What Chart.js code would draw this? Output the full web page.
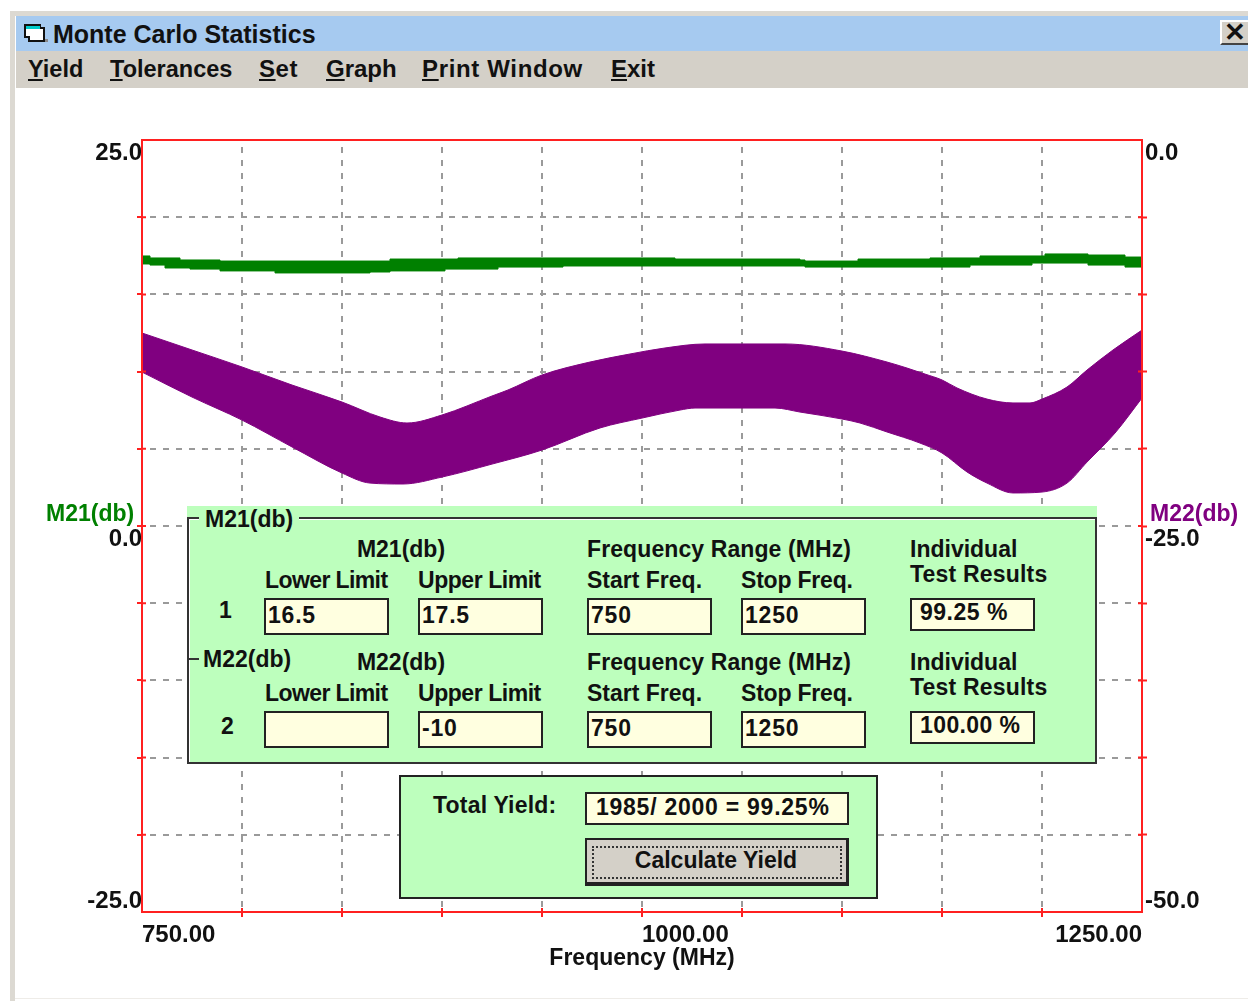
<!DOCTYPE html>
<html><head><meta charset="utf-8">
<script src="https://cdn.jsdelivr.net/npm/chart.js@4"></script>
<style>
html,body{margin:0;padding:0;background:#fff;overflow:hidden}
#stage{position:relative;width:1248px;height:1001px;font:bold 23px "Liberation Sans",sans-serif;color:#111}
canvas{position:absolute;left:0;top:0}
.b{position:absolute}
.t{position:absolute;line-height:26px;height:26px;white-space:nowrap}
.c{transform:translateX(-50%)}
.inp{position:absolute;background:#ffffe0;border:2px solid #222;box-sizing:border-box}
.ll{letter-spacing:-.6px}.ul{letter-spacing:-.45px}.sf{letter-spacing:-.2px}.d{letter-spacing:.8px}
</style></head><body><div id="stage">
<canvas id="c" width="1248" height="1001"></canvas>

<div class="b" style="left:10px;top:11px;width:1238px;height:5px;background:#dcd9d2"></div>
<div class="b" style="left:10px;top:11px;width:5px;height:990px;background:#dcd9d2"></div>
<div class="b" style="left:15px;top:998px;width:1233px;height:1px;background:#eeece8"></div>
<div class="b" style="left:16px;top:16px;width:1232px;height:35px;background:#a6caf0"></div>
<div class="b" style="left:16px;top:51px;width:1232px;height:37px;background:#d4d0c8"></div>
<svg class="b" style="left:23px;top:23px" width="26" height="22" viewBox="0 0 26 22">
<path d="M2 2H17V5H21V18H6V14H2Z" fill="#fff" stroke="#111" stroke-width="2"/><rect x="3" y="3" width="14" height="3" fill="#0cc"/><rect x="22" y="16" width="3" height="3" fill="#888"/></svg>
<div class="t" style="left:53px;top:21px;font-size:25px">Monte Carlo Statistics</div>
<div class="t" style="left:28px;top:56px;font-size:23.5px"><u>Y</u>ield</div>
<div class="t" style="left:110px;top:56px;font-size:23.5px"><u>T</u>olerances</div>
<div class="t" style="left:259px;top:56px;font-size:24px;letter-spacing:.6px"><u>S</u>et</div>
<div class="t" style="left:326px;top:56px;font-size:24px"><u>G</u>raph</div>
<div class="t" style="left:422px;top:56px;font-size:24px;letter-spacing:.65px"><u>P</u>rint Window</div>
<div class="t" style="left:611px;top:56px;font-size:24px"><u>E</u>xit</div>
<div class="b" style="left:1220px;top:20px;width:28px;height:25px;background:#d4d0c8;box-sizing:border-box;border-top:2px solid #fff;border-left:2px solid #fff;border-bottom:2px solid #444"></div>
<div class="t c" style="left:1235px;top:19px;font-size:26px">✕</div>

<div class="t" style="left:46px;top:500px;color:#008000">M21(db)</div>
<div class="t" style="left:1150px;top:500px;color:#800080">M22(db)</div>

<div class="b" style="left:187px;top:506px;width:910px;height:258px;background:#bdffbd"></div>
<div class="b" style="left:187px;top:517px;width:910px;height:247px;border:2px solid #333;box-sizing:border-box;box-shadow:inset 1px 1px 0 #fff"></div>
<div class="b" style="left:199px;top:510px;width:100px;height:16px;background:#bdffbd"></div>
<div class="b" style="left:187px;top:658px;width:12px;height:2px;background:#333"></div>
<div class="t" style="left:205px;top:506px">M21(db)</div>
<div class="t" style="left:203px;top:646px">M22(db)</div>

<div class="t c" style="left:401px;top:536px">M21(db)</div>
<div class="t" style="left:587px;top:536px;letter-spacing:.1px">Frequency Range (MHz)</div>
<div class="t" style="left:910px;top:536px">Individual</div>
<div class="t" style="left:910px;top:561px;letter-spacing:.2px">Test Results</div>
<div class="t ll" style="left:265px;top:567px">Lower Limit</div>
<div class="t ul" style="left:418px;top:567px">Upper Limit</div>
<div class="t" style="left:587px;top:567px">Start Freq.</div>
<div class="t sf" style="left:741px;top:567px">Stop Freq.</div>
<div class="t" style="left:219px;top:597px">1</div>
<div class="inp" style="left:264px;top:598px;width:125px;height:37px"></div><div class="t d" style="left:268px;top:602px">16.5</div>
<div class="inp" style="left:418px;top:598px;width:125px;height:37px"></div><div class="t d" style="left:422px;top:602px">17.5</div>
<div class="inp" style="left:587px;top:598px;width:125px;height:37px"></div><div class="t d" style="left:591px;top:602px">750</div>
<div class="inp" style="left:741px;top:598px;width:125px;height:37px"></div><div class="t d" style="left:745px;top:602px">1250</div>
<div class="inp" style="left:910px;top:598px;width:125px;height:33px"></div><div class="t" style="left:920px;top:599px;letter-spacing:.5px">99.25 %</div>

<div class="t c" style="left:401px;top:649px">M22(db)</div>
<div class="t" style="left:587px;top:649px;letter-spacing:.1px">Frequency Range (MHz)</div>
<div class="t" style="left:910px;top:649px">Individual</div>
<div class="t" style="left:910px;top:674px;letter-spacing:.2px">Test Results</div>
<div class="t ll" style="left:265px;top:680px">Lower Limit</div>
<div class="t ul" style="left:418px;top:680px">Upper Limit</div>
<div class="t" style="left:587px;top:680px">Start Freq.</div>
<div class="t sf" style="left:741px;top:680px">Stop Freq.</div>
<div class="t" style="left:221px;top:713px">2</div>
<div class="inp" style="left:264px;top:711px;width:125px;height:37px"></div>
<div class="inp" style="left:418px;top:711px;width:125px;height:37px"></div><div class="t d" style="left:422px;top:715px">-10</div>
<div class="inp" style="left:587px;top:711px;width:125px;height:37px"></div><div class="t d" style="left:591px;top:715px">750</div>
<div class="inp" style="left:741px;top:711px;width:125px;height:37px"></div><div class="t d" style="left:745px;top:715px">1250</div>
<div class="inp" style="left:910px;top:711px;width:125px;height:33px"></div><div class="t" style="left:920px;top:712px;letter-spacing:.4px">100.00 %</div>

<div class="b" style="left:399px;top:775px;width:479px;height:124px;background:#bdffbd;border:2px solid #222;box-sizing:border-box"></div>
<div class="t" style="left:433px;top:792px;letter-spacing:.2px">Total Yield:</div>
<div class="inp" style="left:585px;top:792px;width:264px;height:33px"></div><div class="t" style="left:596px;top:794px;letter-spacing:.75px">1985/ 2000 = 99.25%</div>
<div class="b" style="left:585px;top:838px;width:264px;height:48px;background:#d4d0c8;box-sizing:border-box;border:2px solid #222;border-bottom:4px solid #222;border-right:3px solid #222"></div>
<div class="b" style="left:592px;top:846px;width:250px;height:33px;border:2px dotted #333;box-sizing:border-box"></div>
<div class="t c" style="left:716px;top:847px">Calculate Yield</div>
</div>
<script>
const fontFamily = '"Liberation Sans", sans-serif';
const xTickLabels = [750, 1000, 1250];
const leftTickLabels = [25, 0, -25];
const rightTickLabels = [0, -25, -50];

const m21Freq = [750,754,761.5,769,774,789,816.5,864,874,901.5,908,928,960.5,1016.5,1079,1081.5,1108,1144,1164,1169,1195,1201.5,1223,1241.5,1250];
const m21Upper = [17.49,17.36,17.36,17.23,17.23,17.16,17.16,17.16,17.29,17.29,17.36,17.36,17.36,17.29,17.23,17.16,17.29,17.36,17.36,17.49,17.49,17.62,17.55,17.42,17.36];
const m21Lower = [16.97,16.90,16.71,16.71,16.64,16.52,16.39,16.45,16.52,16.64,16.64,16.77,16.84,16.84,16.84,16.77,16.77,16.77,16.90,16.90,17.03,17.03,16.90,16.77,16.77];

const m22UpperFreq = [750,775,800,825,850,869,882.5,900,925,933,950,974,994,1011.5,1031.5,1071.5,1100,1122.5,1132.5,1141.5,1150,1157.5,1172.5,1185.5,1194,1200,1212.5,1222.5,1235.5,1250];
const m22Upper = [-12.50,-13.60,-14.70,-15.87,-16.97,-17.94,-18.33,-17.81,-16.58,-16.19,-15.22,-14.38,-13.86,-13.47,-13.21,-13.21,-13.67,-14.38,-14.77,-15.16,-15.54,-16.06,-16.78,-17.03,-17.03,-16.78,-16.00,-14.90,-13.60,-12.31];
const m22LowerFreq = [750,775,800,825,850,864,880.5,900,925,950,979,1000,1019,1026.5,1066.5,1079,1100,1109,1122.5,1139,1150,1162.5,1172.5,1185.5,1200,1212.5,1222.5,1236.5,1250];
const m22Lower = [-15.03,-16.65,-18.14,-19.88,-21.57,-22.22,-22.28,-21.83,-20.99,-20.08,-18.65,-18.01,-17.49,-17.36,-17.36,-17.62,-18.07,-18.33,-18.91,-19.63,-20.27,-21.50,-22.22,-22.86,-22.80,-22.22,-20.86,-18.98,-16.71];

const zip = (xs, ys) => xs.map((x, i) => ({x, y: ys[i]}));
const RED = '#ff2020', GRID = '#9a9a9a', GREEN = '#008000', PURPLE = '#800080';
const tickFont = {family: fontFamily, size: 24, weight: 'bold'};
const titleFont = {family: fontFamily, size: 23, weight: 'bold'};
const innerTick = ctx => (ctx.tick && (ctx.tick.value === ctx.scale.min || ctx.tick.value === ctx.scale.max)) ? 'rgba(0,0,0,0)' : RED;

const windowFrame = {
  id: 'windowFrame',
  beforeDraw(chart) {
    const nudge = (scale, label, dx, dy, align) => {
      for (const it of scale.getLabelItems()) {
        if (it.label !== label || it._n) continue;
        it._n = 1;
        it.options.translation = [it.options.translation[0] + dx, it.options.translation[1] + dy];
        if (align) it.options.textAlign = align;
      }
    };
    nudge(chart.scales.x, '1250.00', 0, 0, 'right');
    nudge(chart.scales.y, '-25.0', 0, -24);
    nudge(chart.scales.y1, '-50.0', 0, -24);
  },
  afterDatasetsDraw(chart) {
    const {ctx, chartArea: a, scales} = chart;
    ctx.save();
    ctx.strokeStyle = RED; ctx.lineWidth = 2; ctx.setLineDash([]);
    ctx.strokeRect(a.left, a.top, a.right - a.left, a.bottom - a.top);
    ctx.beginPath();
    for (const t of scales.y.ticks) {
      const p = scales.y.getPixelForValue(t.value);
      ctx.moveTo(a.left, p); ctx.lineTo(a.left + 4, p);
      ctx.moveTo(a.right, p); ctx.lineTo(a.right - 4, p);
    }
    for (const t of scales.x.ticks) {
      const p = scales.x.getPixelForValue(t.value);
      ctx.moveTo(p, a.bottom); ctx.lineTo(p, a.bottom - 4);
    }
    ctx.stroke();
    ctx.restore();
  }
};

new Chart(document.getElementById('c'), {
  type: 'line',
  data: {datasets: [
    {label: 'M21 upper', data: zip(m21Freq, m21Upper), yAxisID: 'y', stepped: true, fill: '+1', backgroundColor: GREEN, borderColor: GREEN, borderWidth: 1, pointRadius: 0},
    {label: 'M21 lower', data: zip(m21Freq, m21Lower), yAxisID: 'y', stepped: true, fill: false, borderColor: GREEN, borderWidth: 1, pointRadius: 0},
    {label: 'M22 upper', data: zip(m22UpperFreq, m22Upper), yAxisID: 'y1', cubicInterpolationMode: 'monotone', fill: '+1', backgroundColor: PURPLE, borderColor: PURPLE, borderWidth: 1, pointRadius: 0},
    {label: 'M22 lower', data: zip(m22LowerFreq, m22Lower), yAxisID: 'y1', cubicInterpolationMode: 'monotone', fill: false, borderColor: PURPLE, borderWidth: 1, pointRadius: 0}
  ]},
  options: {
    responsive: false, animation: false, events: [],
    layout: {padding: {top: 140, left: 0, right: 0, bottom: 0}},
    plugins: {legend: {display: false}, tooltip: {enabled: false}},
    scales: {
      x: {
        type: 'linear', min: 750, max: 1250,
        afterFit(s) { s.height = 89; },
        border: {color: RED, width: 2, dash: [6, 7], dashOffset: 6},
        grid: {color: GRID, lineWidth: 2, tickColor: innerTick, tickLength: 5, tickWidth: 2},
        ticks: {stepSize: 50, autoSkip: false, maxRotation: 0, align: 'start', padding: 4, color: '#111', font: tickFont,
          callback: v => xTickLabels.includes(v) ? v.toFixed(2) : ''},
        title: {display: true, text: 'Frequency (MHz)', color: '#111', font: titleFont, padding: {top: 0, bottom: 29}}
      },
      y: {
        position: 'left', min: -25, max: 25,
        afterFit(s) { s.width = 142; },
        border: {color: RED, width: 2, dash: [6, 7], dashOffset: 6},
        grid: {color: GRID, lineWidth: 2, tickColor: innerTick, tickLength: 5, tickWidth: 2},
        ticks: {stepSize: 5, autoSkip: false, padding: -5, labelOffset: 13, color: '#111', font: tickFont,
          callback: v => leftTickLabels.includes(v) ? v.toFixed(1) : ''}
      },
      y1: {
        position: 'right', min: -50, max: 0,
        afterFit(s) { s.width = 106; },
        border: {color: RED, width: 2},
        grid: {drawOnChartArea: false, tickColor: innerTick, tickLength: 5, tickWidth: 2},
        ticks: {stepSize: 5, autoSkip: false, padding: -2, labelOffset: 13, color: '#111', font: tickFont,
          callback: v => rightTickLabels.includes(v) ? v.toFixed(1) : ''}
      }
    }
  },
  plugins: [windowFrame]
});
</script></body></html>
